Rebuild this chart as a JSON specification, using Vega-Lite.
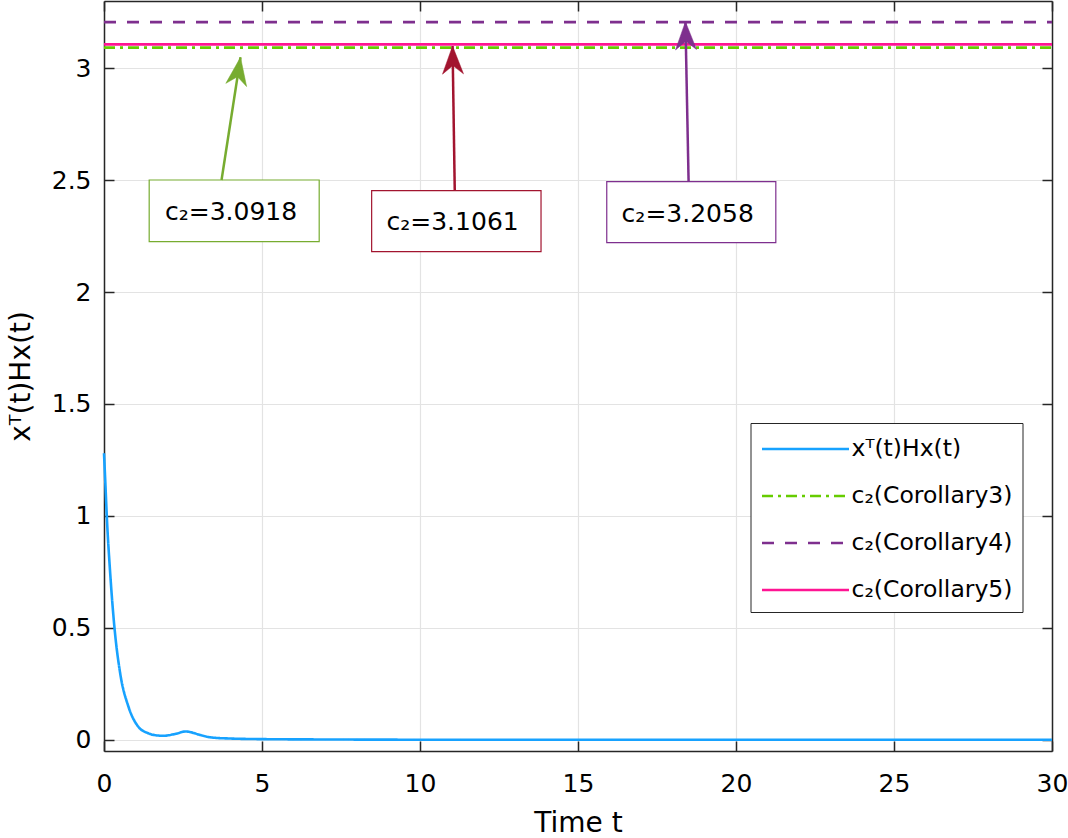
{
  "$schema": "https://vega.github.io/schema/vega-lite/v6.json",
  "width": 948,
  "height": 750,
  "autosize": {"type": "none"},
  "padding": {"left": 104, "top": 1, "right": 16, "bottom": 87},
  "background": "white",
  "config": {
    "font": "DejaVu Sans",
    "view": {"stroke": null},
    "axis": {
      "domainColor": "#262626", "domainWidth": 1.5,
      "tickColor": "#262626", "tickWidth": 1.5, "tickSize": -10,
      "labelFont": "DejaVu Sans", "labelFontSize": 25, "labelColor": "#000000",
      "gridColor": "#e3e3e3", "gridWidth": 1.2,
      "titleFont": "DejaVu Sans", "titleFontSize": 28, "titleFontWeight": "normal", "titleColor": "#000000",
      "labelFlush": false, "labelOverlap": false
    }
  },
  "datasets": {
    "curves": [
      {"s": "xᵀ(t)Hx(t)", "t": 0, "v": 1.28},
      {"s": "xᵀ(t)Hx(t)", "t": 0.045, "v": 1.14},
      {"s": "xᵀ(t)Hx(t)", "t": 0.088, "v": 1.0},
      {"s": "xᵀ(t)Hx(t)", "t": 0.196, "v": 0.744},
      {"s": "xᵀ(t)Hx(t)", "t": 0.332, "v": 0.5},
      {"s": "xᵀ(t)Hx(t)", "t": 0.512, "v": 0.297},
      {"s": "xᵀ(t)Hx(t)", "t": 0.774, "v": 0.148},
      {"s": "xᵀ(t)Hx(t)", "t": 1.089, "v": 0.058},
      {"s": "xᵀ(t)Hx(t)", "t": 1.405, "v": 0.029},
      {"s": "xᵀ(t)Hx(t)", "t": 1.65, "v": 0.02},
      {"s": "xᵀ(t)Hx(t)", "t": 1.879, "v": 0.018},
      {"s": "xᵀ(t)Hx(t)", "t": 2.248, "v": 0.026},
      {"s": "xᵀ(t)Hx(t)", "t": 2.583, "v": 0.037},
      {"s": "xᵀ(t)Hx(t)", "t": 2.75, "v": 0.034},
      {"s": "xᵀ(t)Hx(t)", "t": 2.984, "v": 0.024},
      {"s": "xᵀ(t)Hx(t)", "t": 3.25, "v": 0.014},
      {"s": "xᵀ(t)Hx(t)", "t": 3.511, "v": 0.009},
      {"s": "xᵀ(t)Hx(t)", "t": 3.932, "v": 0.006},
      {"s": "xᵀ(t)Hx(t)", "t": 5, "v": 0.003},
      {"s": "xᵀ(t)Hx(t)", "t": 7, "v": 0.0015},
      {"s": "xᵀ(t)Hx(t)", "t": 10, "v": 0.0005},
      {"s": "xᵀ(t)Hx(t)", "t": 30, "v": 0},
      {"s": "c₂(Corollary3)", "t": 0, "v": 3.0918},
      {"s": "c₂(Corollary3)", "t": 30, "v": 3.0918},
      {"s": "c₂(Corollary4)", "t": 0, "v": 3.2058},
      {"s": "c₂(Corollary4)", "t": 30, "v": 3.2058},
      {"s": "c₂(Corollary5)", "t": 0, "v": 3.1061},
      {"s": "c₂(Corollary5)", "t": 30, "v": 3.1061}
    ],
    "notes": [
      {"name": "c3", "label": "c₂=3.0918", "bx1": 1.43, "bx2": 6.81, "by1": 2.225, "by2": 2.5005, "at0": 3.72, "av0": 2.5005, "at1": 4.32, "av1": 3.0485, "tx": 1.93, "ty": 2.322},
      {"name": "c5", "label": "c₂=3.1061", "bx1": 8.47, "bx2": 13.83, "by1": 2.1802, "by2": 2.4527, "at0": 11.1, "av0": 2.4527, "at1": 11.03, "av1": 3.099, "tx": 8.94, "ty": 2.277},
      {"name": "c4", "label": "c₂=3.2058", "bx1": 15.91, "bx2": 21.26, "by1": 2.2204, "by2": 2.4929, "at0": 18.5, "av0": 2.4929, "at1": 18.4, "av1": 3.2075, "tx": 16.38, "ty": 2.314}
    ]
  },
  "resolve": {"axis": {"x": "independent", "y": "independent"}},
  "layer": [
    {
      "data": {"name": "curves"},
      "mark": {"type": "line", "strokeWidth": 2.6, "interpolate": "monotone"},
      "encoding": {
        "x": {"field": "t", "type": "quantitative", "scale": {"domain": [0, 30], "nice": false, "zero": false},
          "axis": {"values": [0, 5, 10, 15, 20, 25, 30], "format": "d", "labelPadding": 30, "title": "Time t", "titlePadding": 13, "grid": true}},
        "y": {"field": "v", "type": "quantitative", "scale": {"domain": [-0.05, 3.3], "nice": false, "zero": false},
          "axis": {"values": [0, 0.5, 1, 1.5, 2, 2.5, 3], "format": "~g", "labelPadding": 23, "title": "xᵀ(t)Hx(t)", "titlePadding": 16, "grid": true}},
        "detail": {"field": "s"},
        "color": {"field": "s", "type": "nominal",
          "scale": {"domain": ["xᵀ(t)Hx(t)", "c₂(Corollary3)", "c₂(Corollary4)", "c₂(Corollary5)"], "range": ["#17A2FF", "#66CC00", "#7E2F8E", "#FF1493"]},
          "legend": {"title": null, "orient": "none", "legendX": 646.5, "legendY": 422, "strokeColor": "#262626", "fillColor": "white", "padding": 10, "labelFontSize": 23.5, "labelFont": "DejaVu Sans", "labelColor": "#000000", "labelLimit": 400, "symbolType": "M-3,0L3,0", "symbolSize": 841, "symbolStrokeWidth": 2.6, "rowPadding": 19, "labelOffset": 30, "symbolOffset": 29}},
        "strokeDash": {"field": "s", "type": "nominal",
          "scale": {"domain": ["xᵀ(t)Hx(t)", "c₂(Corollary3)", "c₂(Corollary4)", "c₂(Corollary5)"], "range": [[1, 0], [11, 5, 3, 5], [12, 11], [1, 0]]},
          "legend": {"title": null, "orient": "none", "legendX": 646.5, "legendY": 422, "strokeColor": "#262626", "fillColor": "white", "padding": 10, "labelFontSize": 23.5, "labelFont": "DejaVu Sans", "labelColor": "#000000", "labelLimit": 400, "symbolType": "M-3,0L3,0", "symbolSize": 841, "symbolStrokeWidth": 2.6, "rowPadding": 19, "labelOffset": 30, "symbolOffset": 29}}
      }
    },
    {
      "data": {"name": "curves"},
      "mark": {"type": "line", "strokeOpacity": 0},
      "encoding": {
        "x": {"field": "t", "type": "quantitative", "scale": {"domain": [0, 30], "nice": false, "zero": false},
          "axis": {"orient": "top", "values": [0, 5, 10, 15, 20, 25, 30], "labels": false, "grid": false, "title": null}},
        "y": {"field": "v", "type": "quantitative", "scale": {"domain": [-0.05, 3.3], "nice": false, "zero": false},
          "axis": {"orient": "right", "values": [0, 0.5, 1, 1.5, 2, 2.5, 3], "labels": false, "grid": false, "title": null}}
      }
    },
    {
      "data": {"name": "notes"},
      "transform": [{"filter": "datum.name === 'c3'"}],
      "layer": [
        {"mark": {"type": "rect", "fill": "white", "stroke": "#77AC30", "strokeWidth": 1.2},
         "encoding": {
           "x": {"field": "bx1", "type": "quantitative", "scale": {"domain": [0, 30], "nice": false, "zero": false}, "axis": null},
           "x2": {"field": "bx2"},
           "y": {"field": "by1", "type": "quantitative", "scale": {"domain": [-0.05, 3.3], "nice": false, "zero": false}, "axis": null},
           "y2": {"field": "by2"}}},
        {"mark": {"type": "rule", "stroke": "#77AC30", "strokeWidth": 2.5},
         "encoding": {
           "x": {"field": "at0", "type": "quantitative", "scale": {"domain": [0, 30], "nice": false, "zero": false}, "axis": null},
           "x2": {"field": "at1"},
           "y": {"field": "av0", "type": "quantitative", "scale": {"domain": [-0.05, 3.3], "nice": false, "zero": false}, "axis": null},
           "y2": {"field": "av1"}}},
        {"mark": {"type": "point", "shape": "M0,0L0.75,2L0,1.4L-0.75,2Z", "size": 784, "filled": true, "fill": "#77AC30", "stroke": "#77AC30", "strokeWidth": 0.5, "opacity": 1, "angle": 8.8},
         "encoding": {
           "x": {"field": "at1", "type": "quantitative", "scale": {"domain": [0, 30], "nice": false, "zero": false}, "axis": null},
           "y": {"field": "av1", "type": "quantitative", "scale": {"domain": [-0.05, 3.3], "nice": false, "zero": false}, "axis": null}}},
        {"mark": {"type": "text", "align": "left", "baseline": "alphabetic", "fontSize": 25, "font": "DejaVu Sans", "color": "#000000"},
         "encoding": {
           "x": {"field": "tx", "type": "quantitative", "scale": {"domain": [0, 30], "nice": false, "zero": false}, "axis": null},
           "y": {"field": "ty", "type": "quantitative", "scale": {"domain": [-0.05, 3.3], "nice": false, "zero": false}, "axis": null},
           "text": {"field": "label"}}}
      ]
    },
    {
      "data": {"name": "notes"},
      "transform": [{"filter": "datum.name === 'c5'"}],
      "layer": [
        {"mark": {"type": "rect", "fill": "white", "stroke": "#A2142F", "strokeWidth": 1.2},
         "encoding": {
           "x": {"field": "bx1", "type": "quantitative", "scale": {"domain": [0, 30], "nice": false, "zero": false}, "axis": null},
           "x2": {"field": "bx2"},
           "y": {"field": "by1", "type": "quantitative", "scale": {"domain": [-0.05, 3.3], "nice": false, "zero": false}, "axis": null},
           "y2": {"field": "by2"}}},
        {"mark": {"type": "rule", "stroke": "#A2142F", "strokeWidth": 2.5},
         "encoding": {
           "x": {"field": "at0", "type": "quantitative", "scale": {"domain": [0, 30], "nice": false, "zero": false}, "axis": null},
           "x2": {"field": "at1"},
           "y": {"field": "av0", "type": "quantitative", "scale": {"domain": [-0.05, 3.3], "nice": false, "zero": false}, "axis": null},
           "y2": {"field": "av1"}}},
        {"mark": {"type": "point", "shape": "M0,0L0.75,2L0,1.4L-0.75,2Z", "size": 784, "filled": true, "fill": "#A2142F", "stroke": "#A2142F", "strokeWidth": 0.5, "opacity": 1, "angle": -0.9},
         "encoding": {
           "x": {"field": "at1", "type": "quantitative", "scale": {"domain": [0, 30], "nice": false, "zero": false}, "axis": null},
           "y": {"field": "av1", "type": "quantitative", "scale": {"domain": [-0.05, 3.3], "nice": false, "zero": false}, "axis": null}}},
        {"mark": {"type": "text", "align": "left", "baseline": "alphabetic", "fontSize": 25, "font": "DejaVu Sans", "color": "#000000"},
         "encoding": {
           "x": {"field": "tx", "type": "quantitative", "scale": {"domain": [0, 30], "nice": false, "zero": false}, "axis": null},
           "y": {"field": "ty", "type": "quantitative", "scale": {"domain": [-0.05, 3.3], "nice": false, "zero": false}, "axis": null},
           "text": {"field": "label"}}}
      ]
    },
    {
      "data": {"name": "notes"},
      "transform": [{"filter": "datum.name === 'c4'"}],
      "layer": [
        {"mark": {"type": "rect", "fill": "white", "stroke": "#7E2F8E", "strokeWidth": 1.2},
         "encoding": {
           "x": {"field": "bx1", "type": "quantitative", "scale": {"domain": [0, 30], "nice": false, "zero": false}, "axis": null},
           "x2": {"field": "bx2"},
           "y": {"field": "by1", "type": "quantitative", "scale": {"domain": [-0.05, 3.3], "nice": false, "zero": false}, "axis": null},
           "y2": {"field": "by2"}}},
        {"mark": {"type": "rule", "stroke": "#7E2F8E", "strokeWidth": 2.5},
         "encoding": {
           "x": {"field": "at0", "type": "quantitative", "scale": {"domain": [0, 30], "nice": false, "zero": false}, "axis": null},
           "x2": {"field": "at1"},
           "y": {"field": "av0", "type": "quantitative", "scale": {"domain": [-0.05, 3.3], "nice": false, "zero": false}, "axis": null},
           "y2": {"field": "av1"}}},
        {"mark": {"type": "point", "shape": "M0,0L0.75,2L0,1.4L-0.75,2Z", "size": 784, "filled": true, "fill": "#7E2F8E", "stroke": "#7E2F8E", "strokeWidth": 0.5, "opacity": 1, "angle": -1.2},
         "encoding": {
           "x": {"field": "at1", "type": "quantitative", "scale": {"domain": [0, 30], "nice": false, "zero": false}, "axis": null},
           "y": {"field": "av1", "type": "quantitative", "scale": {"domain": [-0.05, 3.3], "nice": false, "zero": false}, "axis": null}}},
        {"mark": {"type": "text", "align": "left", "baseline": "alphabetic", "fontSize": 25, "font": "DejaVu Sans", "color": "#000000"},
         "encoding": {
           "x": {"field": "tx", "type": "quantitative", "scale": {"domain": [0, 30], "nice": false, "zero": false}, "axis": null},
           "y": {"field": "ty", "type": "quantitative", "scale": {"domain": [-0.05, 3.3], "nice": false, "zero": false}, "axis": null},
           "text": {"field": "label"}}}
      ]
    }
  ]
}
